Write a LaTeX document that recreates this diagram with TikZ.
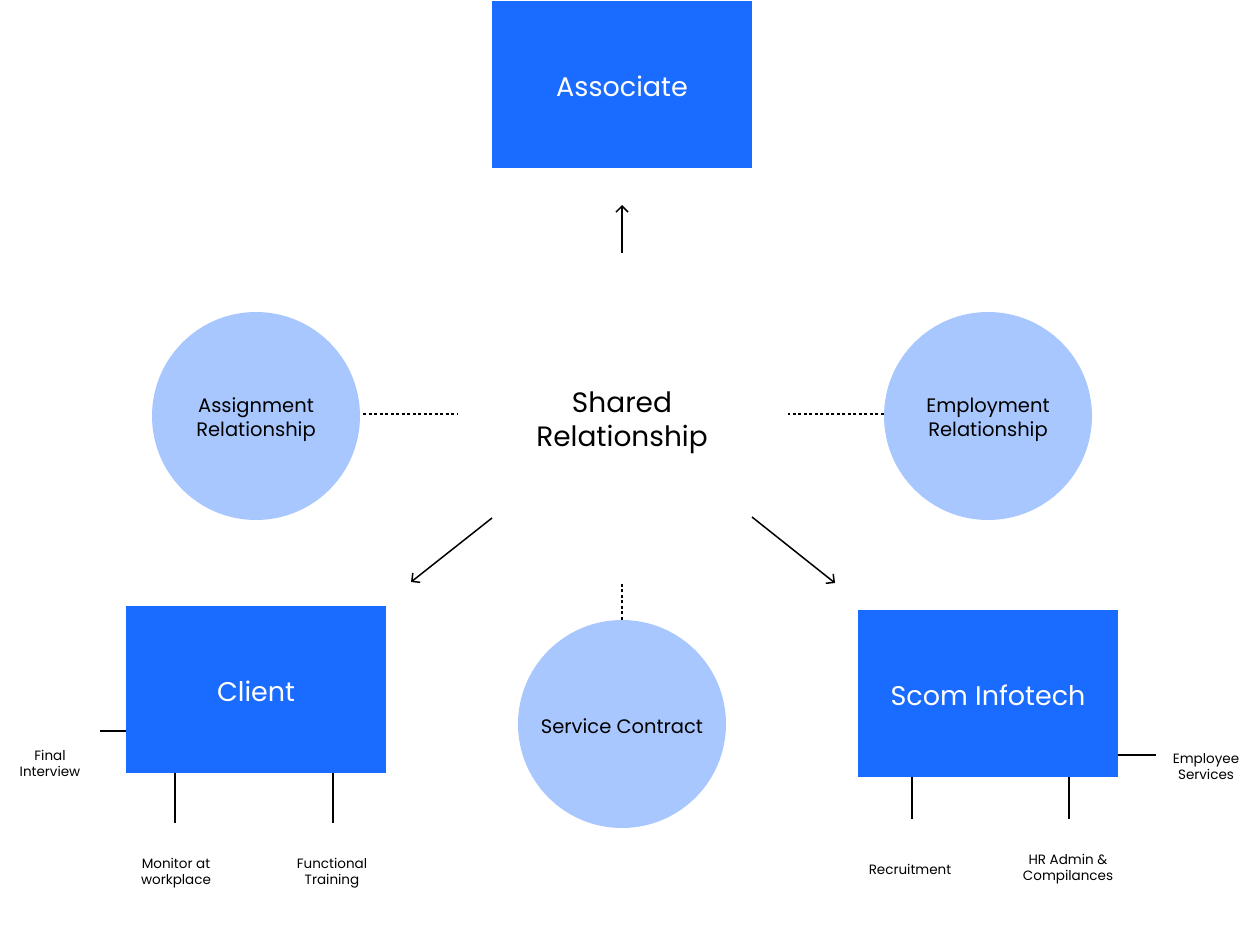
\documentclass[tikz,border=0pt]{standalone}
\usepackage{fontspec}
\setmainfont{Poppins}
\usetikzlibrary{positioning}
\usetikzlibrary{arrows.meta}
\tikzset{>={Straight Barb[width=12pt,length=6pt]}}
\definecolor{boxblue}{HTML}{1A6BFF}
\definecolor{circblue}{HTML}{A8C7FE}

\begin{document}
\begin{tikzpicture}[x=1pt, y=-1pt, box/.style={rectangle, fill=boxblue, text=white, minimum width=260pt, minimum height=167pt, text height=25pt, font=\fontsize{27}{32}\selectfont}, circ/.style={circle, fill=circblue, minimum size=208pt, align=center, text height=47pt, font=\fontsize{19.5}{24}\selectfont}, smalltext/.style={align=center, font=\fontsize{13.5}{16}\selectfont}, emptynode/.style={draw=none, fill=none, align=center, font=\fontsize{28}{34}\selectfont}, dots/.style={line width=1.5pt, dash pattern=on 3pt off 2.5pt}, conn/.style={line width=1.5pt}]

    \useasboundingbox (0,0) rectangle (1256,924);

    %Nodes
    \node[box](associate) at (622,84){Associate};
    \node[emptynode](shared) at (622,423){Shared\\Relationship};
    \node[circ](assignment) at (256,416){Assignment\\Relationship};
    \node[circ](employment) at (988,416){Employment\\Relationship};
    \node[box](client) at (256,689.5){Client};
    \node[circ, text height=19pt](contract) at (622,724){Service Contract};
    \node[box](scom) at (988,693.5){Scom Infotech};

    \node[smalltext](interview) at (50,763){Final\\Interview};
    \node[smalltext](monitor) at (176,873){Monitor at\\workplace};
    \node[smalltext](training) at (332,873){Functional\\Training};
    \node[smalltext](services) at (1206,767){Employee\\Services};
    \node[smalltext](recruitment) at (910,869){Recruitment};
    \node[smalltext](hradmin) at (1068,869){HR Admin \&\\Compilances};

    %Free ends
    \coordinate (up_start) at (622,253);
    \coordinate (up_end) at (622,205);
    \coordinate (left_start) at (492,518);
    \coordinate (left_end) at (411,582);
    \coordinate (right_start) at (752,517);
    \coordinate (right_end) at (835,583);
    \coordinate (assign_end) at (458,414);
    \coordinate (employ_end) at (788,414);
    \coordinate (contract_end) at (622,582);
    \coordinate (interview_end) at (100,731);
    \coordinate (monitor_end) at (175,823);
    \coordinate (training_end) at (333,823);
    \coordinate (services_end) at (1156,755);
    \coordinate (recruitment_end) at (912,819);
    \coordinate (hradmin_end) at (1069,819);

    %Lines
    \draw[conn, ->] (up_start) -- (up_end);
    \draw[conn, ->] (left_start) -- (left_end);
    \draw[conn, ->] (right_start) -- (right_end);
    \draw[dots] ([xshift=3pt]assign_end -| assignment.east) -- (assign_end);
    \draw[dots] (employ_end -| employment.west) -- (employ_end);
    \draw[dots] (contract.north) -- (contract_end);
    \draw[conn] (interview_end) -- (interview_end -| client.west);
    \draw[conn] (monitor_end) -- (monitor_end |- client.south);
    \draw[conn] (training_end) -- (training_end |- client.south);
    \draw[conn] (services_end) -- (services_end -| scom.east);
    \draw[conn] (recruitment_end) -- (recruitment_end |- scom.south);
    \draw[conn] (hradmin_end) -- (hradmin_end |- scom.south);

\end{tikzpicture}
\end{document}
